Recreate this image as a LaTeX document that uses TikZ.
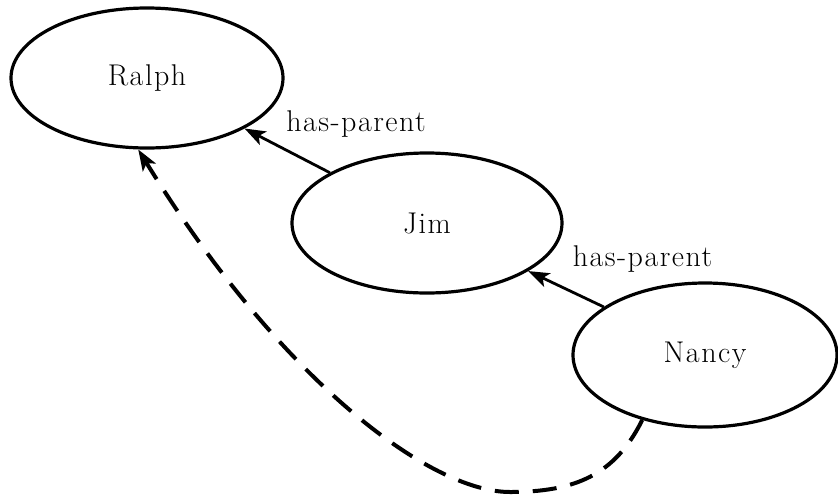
\documentclass[tikz,border=0pt]{standalone}
\usepackage{fontspec}
\newfontfamily\namefont[LetterSpace=5]{Latin Modern Roman}
\usetikzlibrary{shapes.geometric,arrows.meta}
\tikzset{
  person/.style={ellipse, draw, line width=3.2pt, inner sep=0pt,
    font=\namefont\fontsize{30pt}{34pt}\selectfont},
  relation/.style={font=\namefont\fontsize{30pt}{34pt}\selectfont, inner sep=0pt},
  link/.style={line width=2.8pt, -{Stealth[length=21pt,width=15pt,inset=5pt]}},
  derived/.style={line width=4pt, dash pattern=on 24pt off 14pt,
    -{Stealth[length=21pt,width=15pt,inset=5pt]}}
}
\begin{document}
\begin{tikzpicture}[x=1pt,y=-1pt]
  \useasboundingbox (0,0) rectangle (838,499);

  % people
  \node[person, minimum width=272pt, minimum height=140pt] (ralph) at (147,78) {Ralph};
  \node[person, minimum width=270pt, minimum height=140pt] (jim) at (427,223) {Jim};
  \node[person, minimum width=264pt, minimum height=144pt] (nancy) at (705,355) {Nancy};

  % direct parent links
  \draw[link] (jim) -- (ralph);
  \draw[link] (nancy) -- (jim);
  \node[relation] (rel1) at (356,124.5) {has-parent};
  \node[relation] (rel2) at (642.5,259.5) {has-parent};

  % inferred link from Nancy back to Ralph
  \coordinate (low) at (510,492);
  \draw[derived] (nancy.226.4) .. controls (615,475) and (575,492) .. (low)
    .. controls (430,492) and (280,380) .. (ralph.263);
\end{tikzpicture}
\end{document}
